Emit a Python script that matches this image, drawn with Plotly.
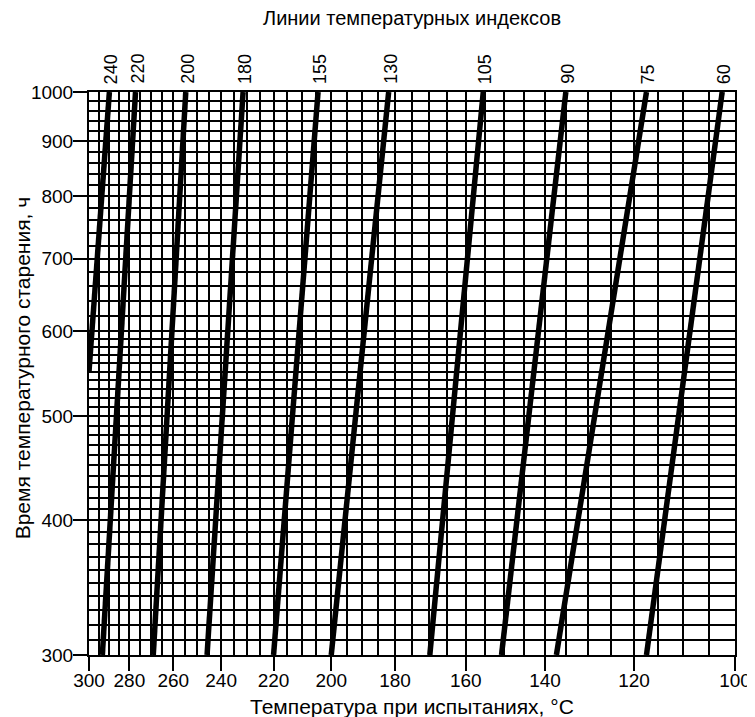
import numpy as np
import plotly.graph_objects as go

# ---------------- data ----------------
X_TICKS = [300, 280, 260, 240, 220, 200, 180, 160, 140, 120, 100]
Y_TICKS = [300, 400, 500, 600, 700, 800, 900, 1000]
X_GRID = list(range(100, 301, 5))
Y_GRID = list(range(300, 600, 10)) + list(range(600, 1001, 20))

INDEX_LABELS = ["240", "220", "200", "180", "155", "130", "105", "90", "75", "60"]
TEMP_AT_TOP = [289.7, 277.1, 254.6, 231.4, 204.4, 181.9, 155.4, 135.1, 117.4, 102.4]   # °C at 1000 h
HOURS_TOP = [1000] * 10
TEMP_AT_BOTTOM = [300.0, 293.2, 268.9, 245.7, 220.0, 200.0, 169.9, 150.7, 137.3, 117.4]
HOURS_BOTTOM = [550, 300, 300, 300, 300, 300, 300, 300, 300, 300]

TITLE_TOP = "Линии температурных индексов"
X_TITLE = "Температура при испытаниях, °C"
Y_TITLE = "Время температурного старения, ч"

# ---------------- scale (pseudo-Arrhenius reciprocal temperature) ----------------
C = 200.0
def tx(t):
    return 1000.0 / (np.asarray(t, dtype=float) + C)

FONT = "Liberation Sans, Arial, sans-serif"

fig = go.Figure()
for lab, t0, h0, t1, h1 in zip(INDEX_LABELS, TEMP_AT_TOP, HOURS_TOP, TEMP_AT_BOTTOM, HOURS_BOTTOM):
    fig.add_trace(go.Scatter(
        x=tx([t0, t1]), y=[h0, h1], mode="lines",
        line=dict(color="black", width=5.5), showlegend=False, hoverinfo="skip"))
    fig.add_annotation(x=float(tx(t0)), y=1, xref="x", yref="paper",
                       text=lab, textangle=-90, showarrow=False,
                       xanchor="center", yanchor="bottom", yshift=6, xshift=2,
                       font=dict(family=FONT, size=18, color="black"))

fig.add_annotation(x=0.5, y=1.131, xref="paper", yref="paper", text=TITLE_TOP,
                   xanchor="center", yanchor="middle",
                   showarrow=False, font=dict(family=FONT, size=20, color="black"))
fig.add_annotation(x=0.5, y=-0.091, xref="paper", yref="paper", text=X_TITLE,
                   xanchor="center", yanchor="middle",
                   showarrow=False, font=dict(family=FONT, size=21, color="black"))
fig.add_annotation(x=-0.103, y=0.51, xref="paper", yref="paper", text=Y_TITLE,
                   xanchor="center", yanchor="middle", borderpad=0,
                   textangle=-90, showarrow=False, font=dict(family=FONT, size=21, color="black"))

fig.update_xaxes(
    range=[float(tx(300)), float(tx(100))], automargin=False,
    tickmode="array", tickvals=tx(X_TICKS).tolist(), ticktext=[str(v) for v in X_TICKS],
    ticks="outside", ticklen=14, tickwidth=2, tickcolor="black", ticklabelstandoff=-7,
    showgrid=True, gridcolor="black", gridwidth=2,
    minor=dict(tickmode="array", tickvals=tx(X_GRID).tolist(), showgrid=True,
               gridcolor="black", gridwidth=2, ticks=""),
    showline=True, linecolor="black", linewidth=2, mirror=True,
    zeroline=False, tickfont=dict(family=FONT, size=19, color="black"))
fig.update_yaxes(
    type="log", range=[np.log10(300), np.log10(1000)], automargin=False,
    tickmode="array", tickvals=Y_TICKS, ticktext=[str(v) for v in Y_TICKS],
    ticks="outside", ticklen=14, tickwidth=2, tickcolor="black", ticklabelstandoff=-4,
    showgrid=True, gridcolor="black", gridwidth=2,
    minor=dict(tickmode="array", tickvals=Y_GRID, showgrid=True,
               gridcolor="black", gridwidth=2, ticks=""),
    showline=True, linecolor="black", linewidth=2, mirror=True,
    zeroline=False, tickfont=dict(family=FONT, size=19, color="black"))

fig.update_layout(
    width=747, height=709,
    margin=dict(l=81, r=20, t=84, b=62),
    paper_bgcolor="white", plot_bgcolor="white",
    showlegend=False)

fig.write_html("out.html")
